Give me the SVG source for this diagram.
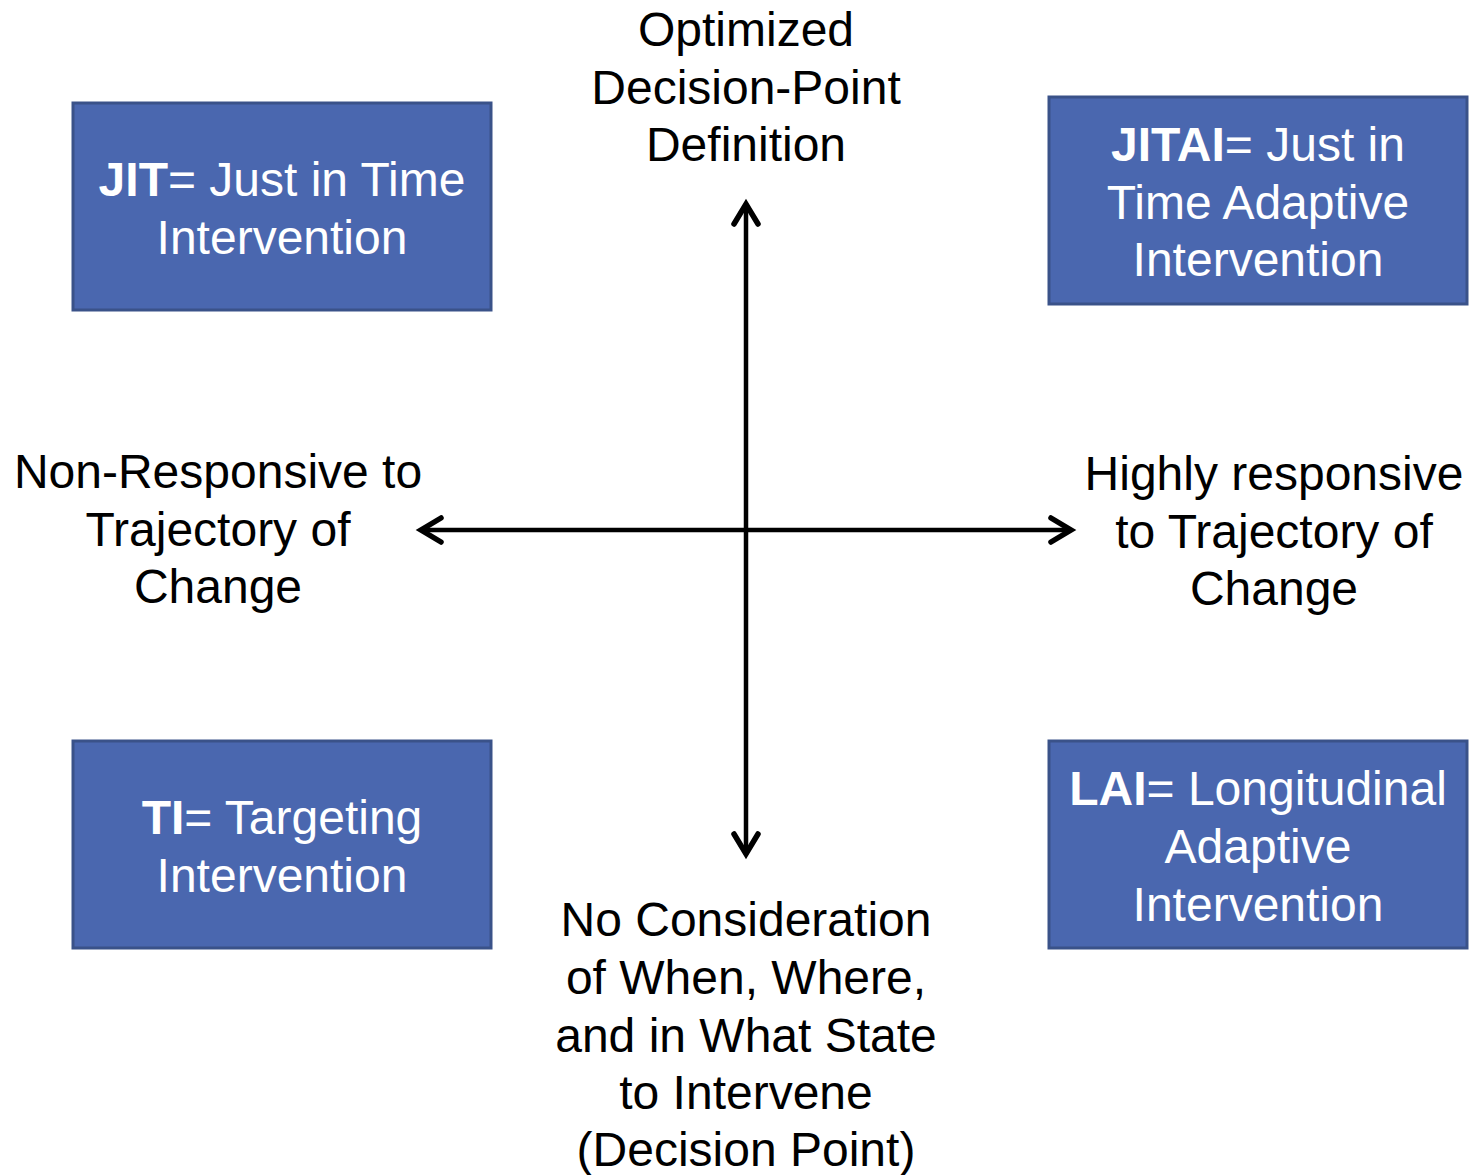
<svg xmlns="http://www.w3.org/2000/svg" width="1472" height="1175" viewBox="0 0 1472 1175">
<style>
.box{fill:#4A67AF;stroke:#3A5289;stroke-width:3}
.bt{font-family:"Liberation Sans",Arial,sans-serif;font-size:48px;fill:#fff;text-anchor:middle}
.lt{font-family:"Liberation Sans",Arial,sans-serif;font-size:48px;fill:#000;text-anchor:middle}
.ax{stroke:#000;stroke-width:4.5;fill:none;stroke-linecap:round;stroke-linejoin:round}
.ah{stroke:#000;stroke-width:5.5;fill:none;stroke-linecap:round;stroke-linejoin:miter}
</style>
<rect width="1472" height="1175" fill="#fff"/>
<g id="jit">
<rect class="box" x="73" y="103" width="418" height="207"/>
<text class="bt" x="282" y="196"><tspan font-weight="bold">JIT</tspan>= Just in Time</text>
<text class="bt" x="282" y="254">Intervention</text>
</g>
<g id="jitai">
<rect class="box" x="1049" y="97" width="418" height="207"/>
<text class="bt" x="1258" y="161"><tspan font-weight="bold">JITAI</tspan>= Just in</text>
<text class="bt" x="1258" y="219">Time Adaptive</text>
<text class="bt" x="1258" y="276">Intervention</text>
</g>
<g id="ti">
<rect class="box" x="73" y="741" width="418" height="207"/>
<text class="bt" x="282" y="834"><tspan font-weight="bold">TI</tspan>= Targeting</text>
<text class="bt" x="282" y="892">Intervention</text>
</g>
<g id="lai">
<rect class="box" x="1049" y="741" width="418" height="207"/>
<text class="bt" x="1258" y="805"><tspan font-weight="bold">LAI</tspan>= Longitudinal</text>
<text class="bt" x="1258" y="863">Adaptive</text>
<text class="bt" x="1258" y="921">Intervention</text>
</g>
<g id="connectors">
<path class="ax" d="M746 206 V852"/>
<path class="ah" d="M734 224 L746 204 L758 224"/>
<path class="ah" d="M734 834 L746 854 L758 834"/>
<path class="ax" d="M422 530 H1069"/>
<path class="ah" d="M441 518 L421 530 L441 542"/>
<path class="ah" d="M1051 518 L1071 530 L1051 542"/>
</g>
<g id="top-label">
<text class="lt" x="746" y="46">Optimized</text>
<text class="lt" x="746" y="104">Decision-Point</text>
<text class="lt" x="746" y="161">Definition</text>
</g>
<g id="left-label">
<text class="lt" x="218" y="488">Non-Responsive to</text>
<text class="lt" x="218" y="546">Trajectory of</text>
<text class="lt" x="218" y="603">Change</text>
</g>
<g id="right-label">
<text class="lt" x="1274" y="490">Highly responsive</text>
<text class="lt" x="1274" y="548">to Trajectory of</text>
<text class="lt" x="1274" y="605">Change</text>
</g>
<g id="bottom-label">
<text class="lt" x="746" y="936">No Consideration</text>
<text class="lt" x="746" y="994">of When, Where,</text>
<text class="lt" x="746" y="1052">and in What State</text>
<text class="lt" x="746" y="1109">to Intervene</text>
<text class="lt" x="746" y="1166">(Decision Point)</text>
</g>
</svg>
